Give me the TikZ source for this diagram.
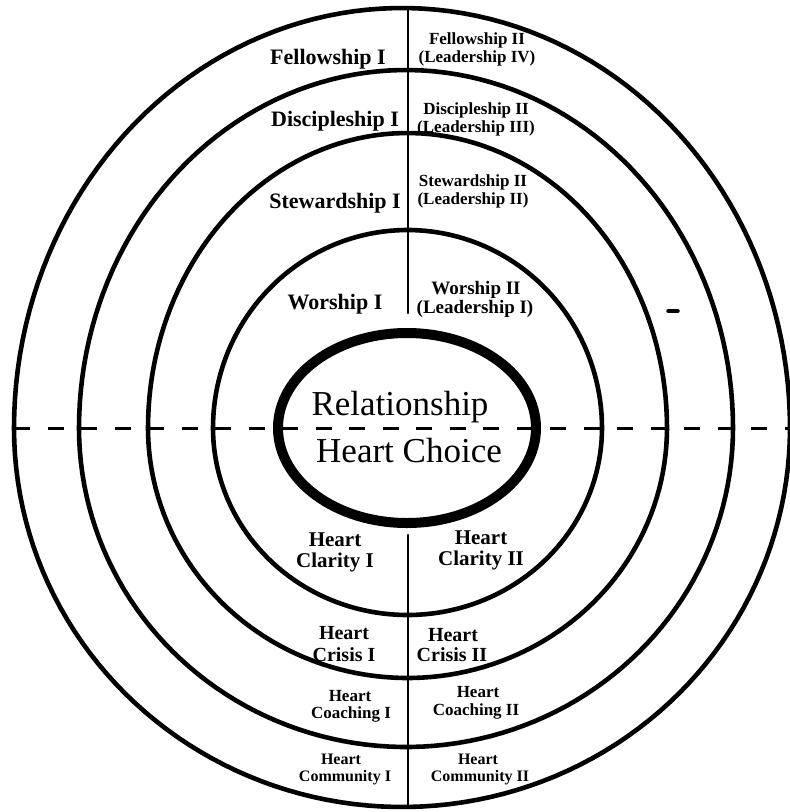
\documentclass[tikz,border=0pt]{standalone}
\usepackage{fontspec}
\setmainfont{Liberation Serif}

\begin{document}
\begin{tikzpicture}[x=1pt, y=-1pt, line cap=round, line join=round,
    ringline/.style={line width=4.6pt},
    axisline/.style={line width=2.6pt},
    splitline/.style={line width=3.0pt, line cap=butt, dash pattern=on 16pt off 17.5pt},
    bigtag/.style={inner sep=0pt, anchor=base, font=\bfseries\fontsize{22}{24}\selectfont},
    leadtag/.style={inner sep=0pt, anchor=base, font=\bfseries\fontsize{17}{19}\selectfont},
    hearttag/.style={inner sep=0pt, anchor=base, font=\bfseries\fontsize{#1}{#1}\selectfont},
    coretag/.style={inner sep=0pt, anchor=base, font=\fontsize{35}{40}\selectfont}]

  %% ════ 四个环（上半、下半各用一段椭圆弧）════
  \foreach \cx/\a/\bt/\bb in {402/388/420/379, 406/327/358/319,
                              407.5/259.5/295/250, 407.5/194.5/198/187}{
    \draw[ringline]
      plot[domain=0:180, samples=90] ({\cx+\a*cos(\x)}, {428-\bt*sin(\x)})
      -- plot[domain=180:360, samples=90] ({\cx+\a*cos(\x)}, {428-\bb*sin(\x)})
      -- cycle;
  }

  %% ════ 中心粗椭圆 ════
  \draw[line width=10pt] (407,428) ellipse [x radius=129, y radius=95];

  %% ════ 竖线、虚线 ════
  \coordinate (axtop) at (408,8);
  \coordinate (axmid) at (408,313);
  \coordinate (axlow) at (408,535);
  \coordinate (axbot) at (408,807);
  \draw[axisline] (axtop) -- (axmid);
  \draw[axisline] (axlow) -- (axbot);

  \coordinate (dashL) at (14,428);
  \coordinate (dashR) at (790,428);
  \draw[splitline] (dashL) -- (dashR);

  % 右侧那一小横
  \draw[line width=3.5pt] (668,311) -- (678,311);

  %% ════ 标签 ════
  \foreach \nm/\x/\y/\txt in {fellowA/328/64/Fellowship I,
                              discA/335/126/Discipleship I,
                              stewA/335/208/Stewardship I,
                              worA/335/309/Worship I}
    \node[bigtag] (\nm) at (\x,\y) {\txt};

  \foreach \nm/\x/\y/\txt in {fellowB/477/44/Fellowship II,
                              fellowL/477/62/(Leadership IV),
                              discB/476/114/Discipleship II,
                              discL/476/132/(Leadership III),
                              stewB/473/186/Stewardship II,
                              stewL/473/204/(Leadership II)}
    \node[leadtag] (\nm) at (\x,\y) {\txt};
  \node[hearttag=19] (worB) at (476,294) {Worship II};
  \node[hearttag=19] (worL) at (475,313) {(Leadership I)};

  \foreach \nm/\x/\y/\s/\txt in {clarHA/335/546/21/Heart, clarA/335/567/21/Clarity I,
                                 clarHB/481/544/21/Heart, clarB/481/565/21/Clarity II,
                                 crisHA/344/639/20/Heart, crisA/344/661/20/Crisis I,
                                 crisHB/453/641/20/Heart, crisB/452/661/20/Crisis II,
                                 coachHA/350/701/17/Heart, coachA/351/718/17/Coaching I,
                                 coachHB/478/697/17/Heart, coachB/476/715/17/Coaching II,
                                 commHA/341/764/16/Heart, commA/345/781/16/Community I,
                                 commHB/478/764/16/Heart, commB/480/781/16/Community II}
    \node[hearttag=\s] (\nm) at (\x,\y) {\txt};

  \node[coretag] (relate) at (400,415) {Relationship};
  \node[coretag] (choice) at (409,462) {Heart Choice};

  \pgfresetboundingbox
  \path[use as bounding box] (0,0) rectangle (790,812);
\end{tikzpicture}
\end{document}
